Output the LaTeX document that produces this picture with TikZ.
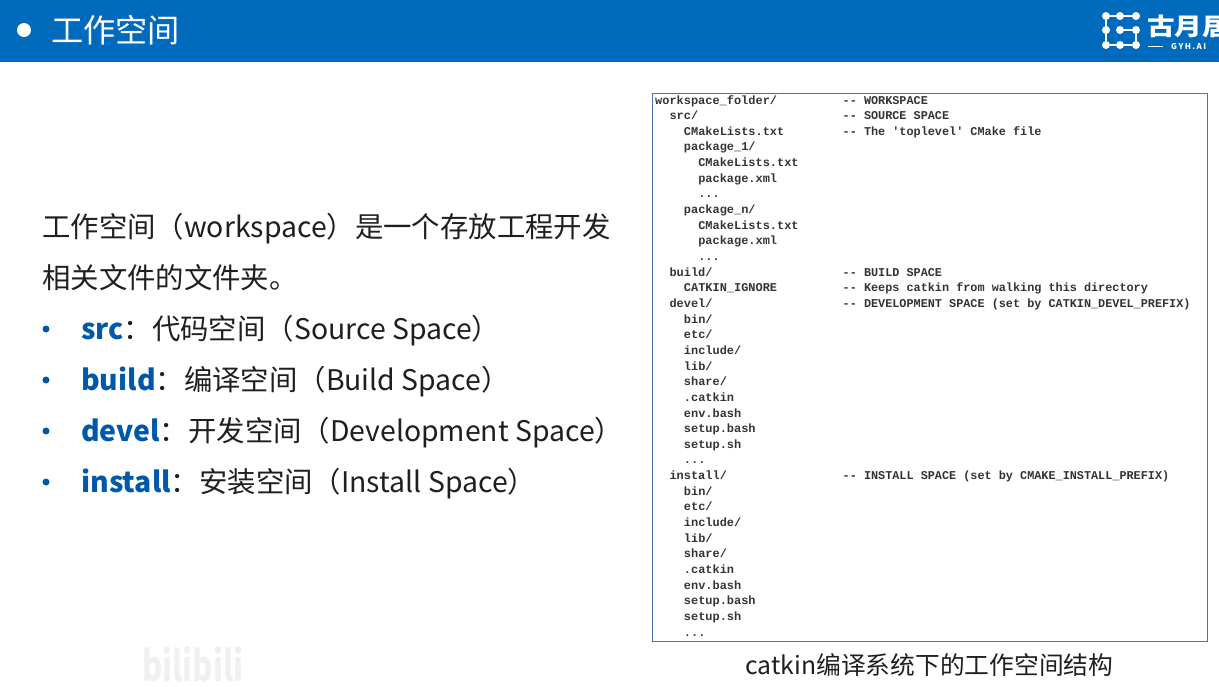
\documentclass[tikz,border=0pt]{standalone}
\usepackage{fontspec}
\setmainfont{Noto Sans CJK SC}
\setmonofont{Liberation Mono}
\definecolor{barblue}{RGB}{0,107,189}
\definecolor{keyblue}{RGB}{0,88,168}
\definecolor{boxblue}{RGB}{70,120,170}
\tikzset{
	bodytext/.style={anchor=base west,inner sep=0pt,font=\fontsize{28.4}{28}\selectfont,text=black!88},
	itemdot/.style={circle,fill=keyblue,inner sep=0pt,minimum size=7pt},
	treetext/.style={anchor=base west,inner sep=0pt,font=\fontsize{11.95}{12}\ttfamily\bfseries,text=black!80},
	logodot/.style={circle,fill=white,inner sep=0pt,minimum size=8pt},
	logoline/.style={draw=white,line width=2pt}
}
\newcommand{\keyword}[1]{{\bfseries\color{keyblue}#1}}
\newcommand{\sep}{/}
\newcommand{\more}{.{}.{}.}
\begin{document}
\begin{tikzpicture}[x=1pt,y=-1pt]
	\useasboundingbox (0,0) rectangle (1219,686);
	\fill[barblue] (0,0) rectangle (1219,62);
	% title
	\node[circle,fill=white,inner sep=0pt,minimum size=14pt] (titledot) at (24,30) {};
	\node[anchor=base west,inner sep=0pt,text=white,font=\fontsize{32.2}{32}\selectfont] (title) at (51,42) {工作空间};
	% logo
	\foreach \name/\x/\y in {a/1106/16,b/1120/16,c/1136/16,d/1106/30,e/1120/30,f/1136/30,g/1106/45,h/1120/45,i/1136/45}
		\node[logodot] (logo\name) at (\x,\y) {};
	\draw[logoline] (logoa) -- (logob) -- (logoc);
	\draw[logoline] (logoa) -- (logod) -- (logog) -- (logoh) -- (logoi) -- (logof) -- (logoe);
	\begin{scope}
		\clip (1140,0) rectangle (1219,62);
		\node[anchor=base west,inner sep=0pt,text=white,xscale=1.15,font=\fontsize{24}{24}\bfseries\selectfont] (logotext) at (1147,35) {古月居};
		\fill[white] (1148,45.5) rectangle (1163,46.5);
		\node[anchor=base west,inner sep=0pt,text=white,font=\fontsize{8}{8}\bfseries\addfontfeature{LetterSpace=18}\selectfont] (logosub) at (1171,49) {GYH.AI};
	\end{scope}
	% left text
	\node[bodytext] (intro1) at (42,237) {工作空间（workspace）是一个存放工程开发};
	\node[bodytext] (intro2) at (42,288) {相关文件的文件夹。};
	\node[bodytext] (src) at (81,339) {\keyword{src}：代码空间（Source Space）};
	\node[bodytext] (build) at (81,390) {\keyword{build}：编译空间（Build Space）};
	\node[bodytext] (devel) at (81,441) {\keyword{devel}：开发空间（Development Space）};
	\node[bodytext] (install) at (81,492) {\keyword{install}：安装空间（Install Space）};
	\foreach \name/\y in {src/329,build/380,devel/431,install/482}
		\node[itemdot] (dot\name) at (46,\y) {};
	% tree listing
	\draw[boxblue,line width=0.8pt] (652.5,93.5) rectangle (1207,641);
	\foreach \n/\ind/\entry in {
		0/0/workspace\_folder\sep,
		1/2/src\sep,
		2/4/CMakeLists.txt,
		3/4/package\_1\sep,
		4/6/CMakeLists.txt,
		5/6/package.xml,
		6/6/\more,
		7/4/package\_n\sep,
		8/6/CMakeLists.txt,
		9/6/package.xml,
		10/6/\more,
		11/2/build\sep,
		12/4/CATKIN\_IGNORE,
		13/2/devel\sep,
		14/4/bin\sep,
		15/4/etc\sep,
		16/4/include\sep,
		17/4/lib\sep,
		18/4/share\sep,
		19/4/.catkin,
		20/4/env.bash,
		21/4/setup.bash,
		22/4/setup.sh,
		23/4/\more,
		24/2/install\sep,
		25/4/bin\sep,
		26/4/etc\sep,
		27/4/include\sep,
		28/4/lib\sep,
		29/4/share\sep,
		30/4/.catkin,
		31/4/env.bash,
		32/4/setup.bash,
		33/4/setup.sh,
		34/4/\more}
		\node[treetext] (row\n) at ({655+7.18*\ind},{104+15.65*\n}) {\entry};
	\foreach \n/\entry in {
		0/-- WORKSPACE,
		1/-- SOURCE SPACE,
		2/-- The 'toplevel' CMake file,
		11/-- BUILD SPACE,
		12/-- Keeps catkin from walking this directory,
		13/-- DEVELOPMENT SPACE (set by CATKIN\_DEVEL\_PREFIX),
		24/-- INSTALL SPACE (set by CMAKE\_INSTALL\_PREFIX)}
		\node[treetext,xscale=0.99] (note\n) at (842.5,{104+15.65*\n}) {\entry};
	\node[anchor=base,inner sep=0pt,font=\fontsize{24.75}{25}\selectfont,text=black!88] (caption) at (929.5,674) {catkin编译系统下的工作空间结构};
	% watermark
	\node[anchor=base west,inner sep=0pt,text=black!6,xscale=0.74,font=\fontsize{42}{42}\bfseries\selectfont] (mark) at (142,681) {bilibili};
\end{tikzpicture}
\end{document}
